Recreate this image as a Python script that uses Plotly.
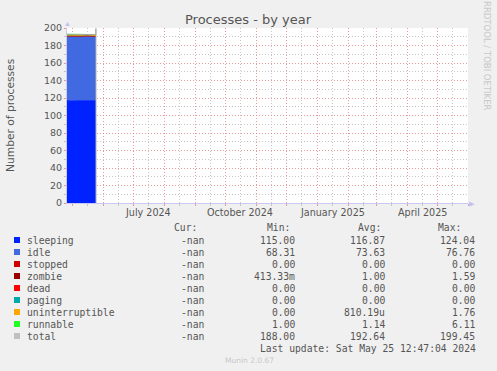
import plotly.graph_objects as go

# ---------------- data ----------------
dates = ["2024-04-26", "2024-05-01", "2024-05-06", "2024-05-11",
         "2024-05-16", "2024-05-21", "2024-05-25"]
sleeping = [117.2, 116.5, 117.0, 116.8, 117.3, 116.6, 117.0]
idle = [73.5, 74.0, 73.2, 73.8, 73.6, 73.9, 73.4]
stopped = [0, 0, 0, 0, 0, 0, 0]
zombie = [1.0, 1.1, 0.9, 1.0, 1.0, 1.1, 0.9]
dead = [0, 0, 0, 0, 0, 0, 0]
paging = [0, 0, 0, 0, 0, 0, 0]
uninterruptible = [0, 0, 0.005, 0, 0, 0, 0]
runnable = [1.1, 1.2, 1.1, 1.2, 1.1, 1.1, 1.2]

total_dates = ["2024-04-26", "2024-05-01", "2024-05-06", "2024-05-11",
               "2024-05-16", "2024-05-21", "2024-05-24 20:00",
               "2024-05-24 22:00", "2024-05-25"]
total = [192.8, 192.8, 192.2, 192.8, 193.0, 192.7, 192.5, 199.45, 0]

series_names = ["sleeping", "idle", "stopped", "zombie", "dead", "paging",
                "uninterruptible", "runnable", "total"]
series_colors = ["#0022ff", "#4169e1", "#cc0000", "#990000", "#ff0000",
                 "#00aaaa", "#ffa500", "#22ff22", "#c0c0c0"]
cur_vals = ["-nan"] * 9
min_vals = ["115.00", "68.31", "0.00", "413.33m", "0.00", "0.00", "0.00", "1.00", "188.00"]
avg_vals = ["116.87", "73.63", "0.00", "1.00", "0.00", "0.00", "810.19u", "1.14", "192.64"]
max_vals = ["124.04", "76.76", "0.00", "1.59", "0.00", "0.00", "1.76", "6.11", "199.45"]

x_range = ["2024-04-26", "2025-06-01"]
x_label_dates = ["2024-07-16", "2024-10-16", "2025-01-16", "2025-04-16"]
x_label_text = ["July 2024", "October 2024", "January 2025", "April 2025"]

title_text = "Processes - by year"
y_title = "Number of processes"
last_update = "Last update: Sat May 25 12:47:04 2024"
munin_version = "Munin 2.0.67"
side_text = "RRDTOOL / TOBI OETIKER"

# ---------------- layout geometry ----------------
W, H = 497, 371
L, R, T, B = 67, 468, 28, 203


def px(x):
    return (x - L) / (R - L)


def py(y):
    return (B - y) / (B - T)


fig = go.Figure()
stack_series = [sleeping, idle, stopped, zombie, dead, paging, uninterruptible, runnable]
for name, vals, col in zip(series_names[:8], stack_series, series_colors[:8]):
    fig.add_trace(go.Scatter(
        x=dates, y=vals, name=name, stackgroup="one", mode="lines",
        line=dict(width=0.8, color=col), fillcolor=col, hoverinfo="skip"))

fig.add_trace(go.Scatter(x=total_dates, y=total, name="total", mode="lines",
                         line=dict(width=1, color="#a8a8a8")))

mono = "DejaVu Sans Mono"
sans = "DejaVu Sans"
txt_col = "#555555"
ann = []

# title & axis texts
ann.append(dict(x=px(248.5), y=py(19), xref="paper", yref="paper", text=title_text,
                showarrow=False, xanchor="center", yanchor="middle",
                font=dict(family=sans, size=13, color=txt_col)))
ann.append(dict(x=px(10), y=py(115), xref="paper", yref="paper", text=y_title,
                showarrow=False, textangle=-90, xanchor="center", yanchor="middle",
                font=dict(family=sans, size=10.7, color=txt_col)))
ann.append(dict(x=px(487), y=py(56), xref="paper", yref="paper", text=side_text,
                showarrow=False, textangle=90, xanchor="center", yanchor="middle",
                font=dict(family=sans, size=8.5, color="#c8c8c8")))

# x labels
for d, t in zip(x_label_dates, x_label_text):
    ann.append(dict(x=d, y=py(212), xref="x", yref="paper", text=t, showarrow=False,
                    xanchor="center", yanchor="middle",
                    font=dict(family=sans, size=9.6, color=txt_col)))

# axis arrows
ann.append(dict(x=px(472), y=py(203), xref="paper", yref="paper", text="▶",
                showarrow=False, xanchor="center", yanchor="middle",
                font=dict(size=7, color="#c0c0f0")))
ann.append(dict(x=px(67), y=py(23), xref="paper", yref="paper", text="▲",
                showarrow=False, xanchor="center", yanchor="middle",
                font=dict(size=7, color="#c0c0f0")))

# legend table
fs = 9.7
headers = [("Cur:", 199), ("Min:", 292), ("Avg:", 383), ("Max:", 463)]
for h, xr in headers:
    ann.append(dict(x=px(xr), y=py(227), xref="paper", yref="paper", text=h,
                    showarrow=False, xanchor="right", yanchor="middle",
                    font=dict(family=mono, size=fs, color=txt_col)))

shapes = []
for i, name in enumerate(series_names):
    yc = 240 + i * 12
    shapes.append(dict(type="rect", xref="paper", yref="paper",
                       x0=px(14), x1=px(20), y0=py(yc + 3), y1=py(yc - 3),
                       fillcolor=series_colors[i], line=dict(width=0)))
    ann.append(dict(x=px(25), y=py(yc), xref="paper", yref="paper", text=name,
                    showarrow=False, xanchor="left", yanchor="middle",
                    font=dict(family=mono, size=fs, color=txt_col)))
    for vals, xr in ((cur_vals, 206), (min_vals, 297), (avg_vals, 387), (max_vals, 477)):
        ann.append(dict(x=px(xr), y=py(yc), xref="paper", yref="paper", text=vals[i],
                        showarrow=False, xanchor="right", yanchor="middle",
                        font=dict(family=mono, size=fs, color=txt_col)))

ann.append(dict(x=px(478), y=py(348), xref="paper", yref="paper", text=last_update,
                showarrow=False, xanchor="right", yanchor="middle",
                font=dict(family=mono, size=fs, color=txt_col)))
ann.append(dict(x=px(249), y=py(360), xref="paper", yref="paper", text=munin_version,
                showarrow=False, xanchor="center", yanchor="middle",
                font=dict(family=sans, size=7.5, color="#c8c8c8")))

red_grid = "rgba(225,120,120,0.75)"
gray_grid = "rgba(185,185,185,0.8)"

fig.update_layout(
    width=W, height=H,
    margin=dict(l=L, r=W - R, t=T, b=H - B, pad=0),
    paper_bgcolor="#f0f0f0", plot_bgcolor="#ffffff",
    showlegend=False,
    annotations=ann, shapes=shapes,
    xaxis=dict(
        type="date", range=x_range, showticklabels=False,
        showgrid=True, gridcolor=red_grid, griddash="1px,2px", gridwidth=1,
        dtick="M1", tick0="2024-01-01",
        ticks="outside", ticklen=2, tickcolor=red_grid,
        showline=True, linecolor="#c8c8f0", linewidth=1,
        zeroline=False, fixedrange=True,
        minor=dict(dtick="M1", tick0="2024-01-16", showgrid=True,
                   gridcolor=gray_grid, griddash="1px,2px", gridwidth=1,
                   ticks="outside", ticklen=2, tickcolor=gray_grid),
    ),
    yaxis=dict(
        range=[0, 200], dtick=20, tick0=0,
        showgrid=True, gridcolor=red_grid, griddash="1px,2px", gridwidth=1,
        ticks="outside", ticklen=2, tickcolor=red_grid,
        tickfont=dict(family=sans, size=9.5, color=txt_col),
        showline=True, linecolor="#c8c8f0", linewidth=1,
        zeroline=False, fixedrange=True,
        minor=dict(dtick=10, showgrid=True, gridcolor=gray_grid,
                   griddash="1px,2px", gridwidth=1,
                   ticks="outside", ticklen=2, tickcolor=gray_grid),
    ),
)

fig.write_html("out.html", config={"displayModeBar": False},
               post_script="document.body.style.margin='0';document.body.style.overflow='hidden';")
